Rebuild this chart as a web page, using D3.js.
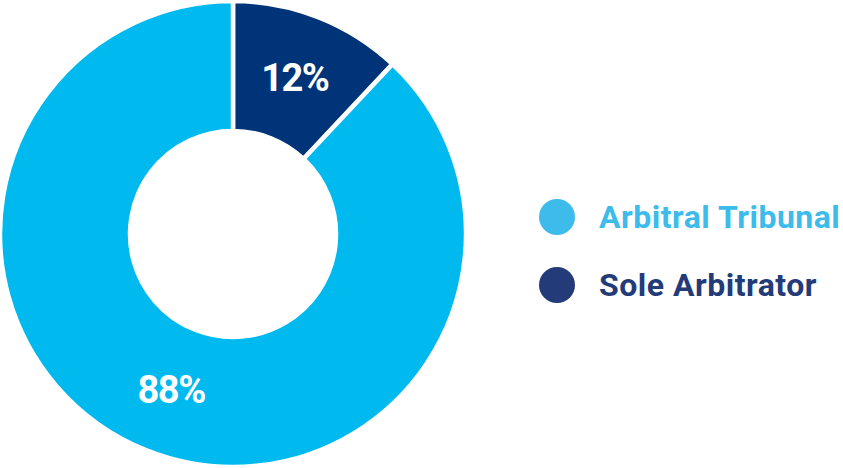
<!DOCTYPE html>
<html><head><meta charset="utf-8">
<script src="https://cdn.jsdelivr.net/npm/d3@7"></script>
<style>html,body{margin:0;padding:0;background:#fff;}svg{display:block;}</style>
</head><body>
<svg id="c" width="843" height="468"></svg>
<script>
const categories = ["Sole Arbitrator", "Arbitral Tribunal"];
const values = [12, 88];
const labels = ["12%", "88%"];
const legendOrder = ["Arbitral Tribunal", "Sole Arbitrator"];

const sliceColor = d3.scaleOrdinal().domain(categories).range(["#003478", "#00B9EF"]);
const legendColor = d3.scaleOrdinal().domain(categories).range(["#233B78", "#3DBBEB"]);

const svg = d3.select("#c");
const cx = 233, cy = 234, outerR = 233, innerR = 103;
const g = svg.append("g").attr("transform", `translate(${cx},${cy})`);
const pie = d3.pie().sort(null).value(d => d.v);
const data = pie(categories.map((c, i) => ({c, v: values[i], l: labels[i]})));
const arc = d3.arc().innerRadius(innerR).outerRadius(outerR);
g.selectAll("path").data(data).join("path")
  .attr("d", arc).attr("fill", d => sliceColor(d.data.c))
  .attr("stroke", "#fff").attr("stroke-width", 4.5).attr("stroke-linejoin", "miter");
g.selectAll("text").data(data).join("text")
  .attr("x", d => arc.centroid(d)[0]).attr("y", d => arc.centroid(d)[1])
  .attr("text-anchor", "middle").attr("dominant-baseline", "central")
  .attr("fill", "#fff").attr("font-family", "Roboto, sans-serif").attr("font-weight", 700)
  .attr("font-size", 38).attr("letter-spacing", -1.5)
  .text(d => d.data.l);

const ly = d3.scalePoint().domain(legendOrder).range([217, 285]);
const lg = svg.append("g");
const items = lg.selectAll("g").data(legendOrder).join("g")
  .attr("transform", d => `translate(557,${ly(d)})`);
items.append("circle").attr("r", 18).attr("fill", d => legendColor(d));
items.append("text").attr("x", 42).attr("y", 0).attr("dominant-baseline", "central")
  .attr("fill", d => legendColor(d)).attr("font-family", "Roboto, sans-serif")
  .attr("font-weight", 700).attr("font-size", 32).attr("letter-spacing", 0.5)
  .text(d => d);
</script>
</body></html>
